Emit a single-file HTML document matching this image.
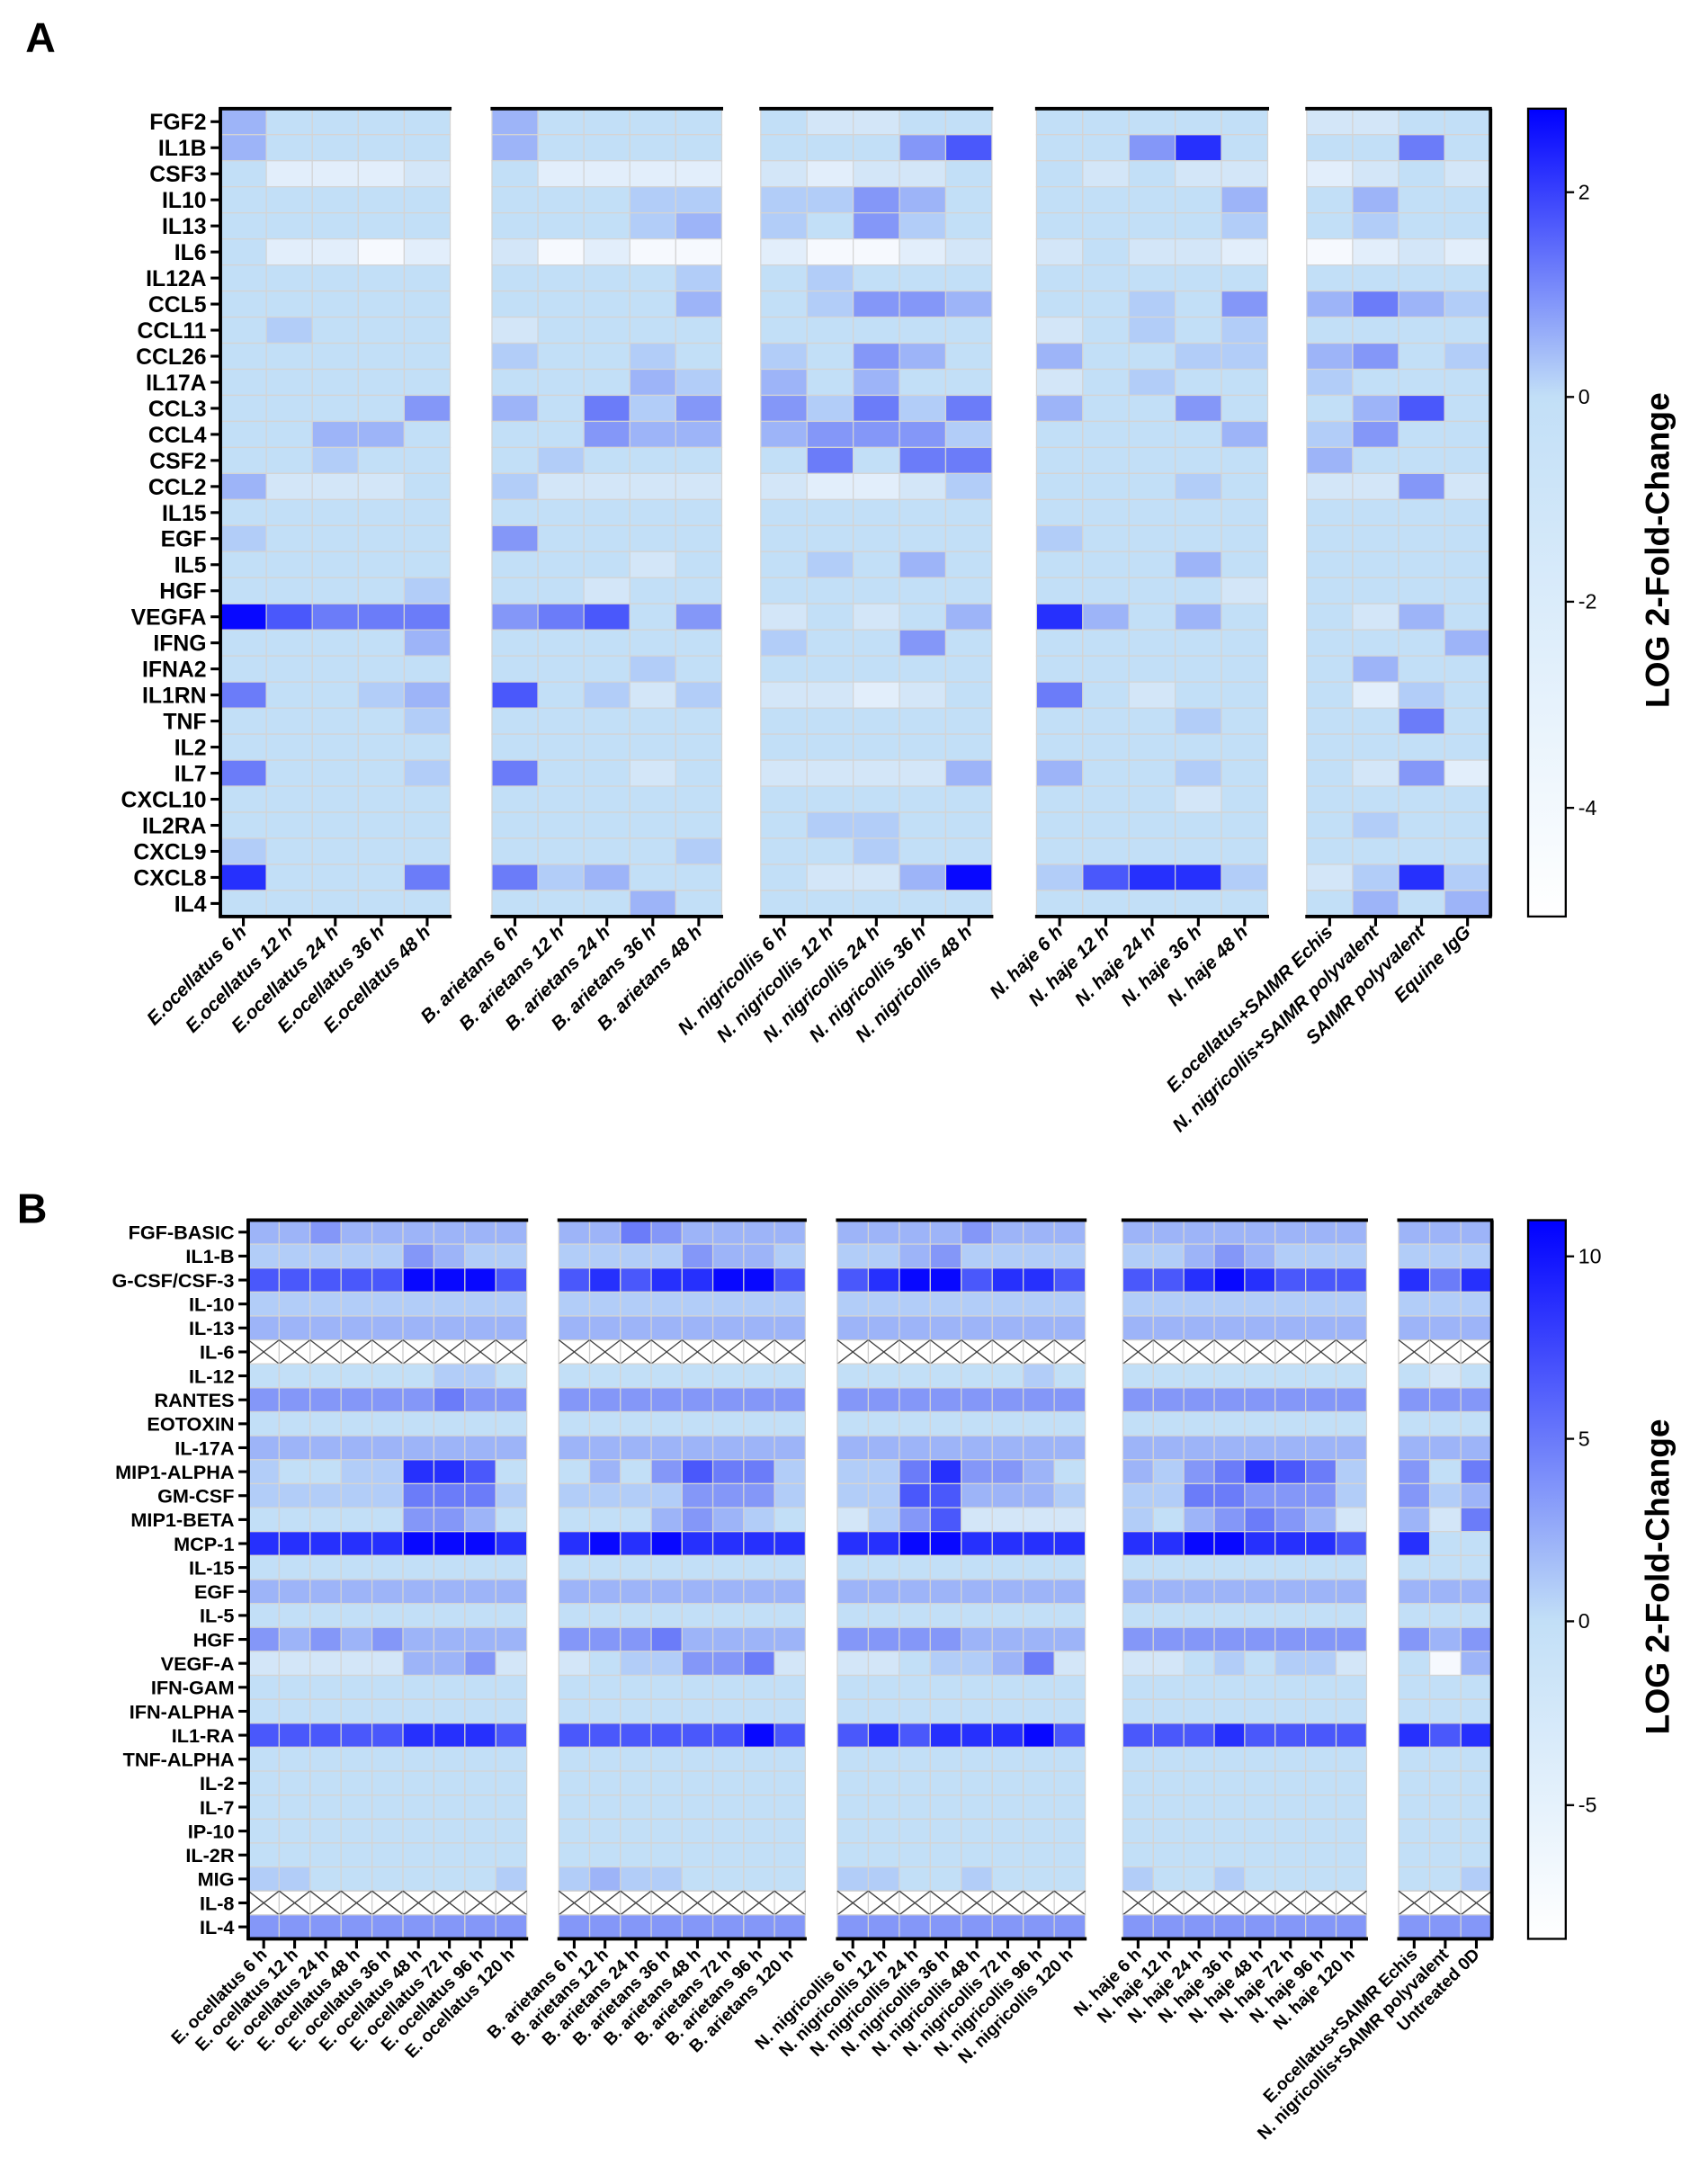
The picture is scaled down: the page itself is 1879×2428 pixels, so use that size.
<!DOCTYPE html>
<html><head><meta charset="utf-8"><style>
html,body{margin:0;padding:0;background:#fff}
svg{display:block}
text{font-family:"Liberation Sans",Arial,sans-serif}
</style></head><body>
<svg id="s" width="1879" height="2428" viewBox="0 0 1213 1568" xmlns="http://www.w3.org/2000/svg">
<defs>
<linearGradient id="ga" x1="0" y1="0" x2="0" y2="1"><stop offset="0" stop-color="#0000ff"/><stop offset="0.357" stop-color="#c2dff7"/><stop offset="1" stop-color="#ffffff"/></linearGradient>
<linearGradient id="gb" x1="0" y1="0" x2="0" y2="1"><stop offset="0" stop-color="#0000ff"/><stop offset="0.558" stop-color="#c2dff7"/><stop offset="1" stop-color="#ffffff"/></linearGradient>
</defs>
<text x="18" y="37" font-size="30" font-weight="bold">A</text>
<text x="12" y="878" font-size="30" font-weight="bold">B</text>
</svg>
<script>
const NS="http://www.w3.org/2000/svg",S=document.getElementById('s');
function el(t,a,txt){const e=document.createElementNS(NS,t);for(const k in a)e.setAttribute(k,a[k]);if(txt!==undefined)e.textContent=txt;S.appendChild(e);return e;}
const C={'.':'#c2dff7',v:'#d3e6f8',w:'#e2eefb',W:'#f6f9fe',a:'#b2cdf8',b:'#9db4f8',c:'#8497f8',d:'#6b7cf9',e:'#4a58fb',f:'#2630fd',g:'#0808ff'};
function block(x0,x1,top,bot,rows,nc){
  const n=rows.length,rh=(bot-top)/n,cw=(x1-x0)/nc;
  for(let r=0;r<n;r++){let s=rows[r].replace(/ /g,'');if(s.length==1)s=s.repeat(nc);
    for(let c=0;c<nc;c++){const ch=s[c]||'.';const x=x0+c*cw,y=top+r*rh;
      if(ch=='x'){el('rect',{x:x,y:y,width:cw,height:rh,fill:'#fff',stroke:'#ccc','stroke-width':0.8});
        el('path',{d:`M${x} ${y}L${x+cw} ${y+rh}M${x+cw} ${y}L${x} ${y+rh}`,stroke:'#444','stroke-width':0.9,fill:'none'});}
      else el('rect',{x:x,y:y,width:cw,height:rh,fill:C[ch],stroke:'#d4d4d4','stroke-width':0.8});}}
  el('line',{x1:x0-1,y1:top,x2:x1+1,y2:top,stroke:'#000','stroke-width':2.5});
  el('line',{x1:x0-1,y1:bot,x2:x1+1,y2:bot,stroke:'#000','stroke-width':2.5});
  for(let c=0;c<nc;c++){const cx=x0+(c+.5)*cw;el('line',{x1:cx,y1:bot,x2:cx,y2:bot+7,stroke:'#000','stroke-width':2});}
  return {cw:cw,rh:rh};
}
function xlabels(x0,cw,bot,labels,fs,it){
  labels.forEach((l,i)=>{const cx=x0+(i+.5)*cw+3,cy=bot+12;
    el('text',{x:cx,y:cy,'font-size':fs,'text-anchor':'end',transform:`rotate(-45 ${cx} ${cy})`,'font-style':it?'italic':'normal','font-weight':'bold'},l);});
}
function ylabels(x0,top,bot,labels,fs){
  const rh=(bot-top)/labels.length;
  el('line',{x1:x0,y1:top-1,x2:x0,y2:bot+1,stroke:'#000','stroke-width':2.5});
  labels.forEach((l,i)=>{const y=top+(i+.5)*rh;el('line',{x1:x0-7,y1:y,x2:x0,y2:y,stroke:'#000','stroke-width':2});
    el('text',{x:x0-10,y:y+fs*0.36,'font-size':fs,'font-weight':'bold','text-anchor':'end'},l);});
}
// ---------- Panel A
const TA=78,BA=658;
const rA=["FGF2","IL1B","CSF3","IL10","IL13","IL6","IL12A","CCL5","CCL11","CCL26","IL17A","CCL3","CCL4","CSF2","CCL2","IL15","EGF","IL5","HGF","VEGFA","IFNG","IFNA2","IL1RN","TNF","IL2","IL7","CXCL10","IL2RA","CXCL9","CXCL8","IL4"];
const A1=["b....","b....",".wwwv",".",".",".wwWw",".",".",".a...",".",".","....c","..bb.","..a..","bvvv.",".","a....",".","....a","geddd","....b",".","d..ab","....a",".","d...a",".",".","a....","f...d","."];
const A2=["b....","b....",".wwww","...aa","...ab","vWwWW","....a","....b","v....","a..a.","...ba","b.dac","..cbb",".a...","avvvv",".","c....","...v.","..v..","cde.c",".","...a.","e.ava",".",".","d..v.",".",".","....a","dab..","...b."];
const A3=[".vv..","...ce","vwvv.","aacb.","a.ca.","wWWwv",".a...",".accb",".","a.cb.","b.b..","cadad","bccca",".d.dd","vwwva",".",".",".a.b.",".","v.v.b","a..c.",".","vvwv.",".",".","vvvvb",".",".aa..","..a..",".vvbg","."];
const A4=[".","..cf.",".v.vv","....b","....a","v.vvw",".","..a.c","v.a.a","b..aa","v.a..","b..c.","....b",".","...a.",".","a....","...b.","....v","fb.b.",".",".","d.v..","...a.",".","b..a.","...v.",".",".","aeffa","."];
const A5=["vv..","..d.","wv.v",".b..",".a..","Wwvw",".","bdba",".","bc.a","a...",".be.","ac..","b...","vvcv",".",".",".",".",".vb.","...b",".b..",".wa.","..d.",".",".vcw",".",".a..",".","vafa",".b.b"];
const bA=[[158,323,5,A1],[353,518,5,A2],[546,712,5,A3],[744,910,5,A4],[938,1070,4,A5]];
bA.forEach(b=>block(b[0],b[1],TA,BA,b[3],b[2]));
el('line',{x1:1070,y1:TA,x2:1070,y2:BA,stroke:'#000','stroke-width':2.5});
ylabels(158,TA,BA,rA,16);
const sp=["E.ocellatus","B. arietans","N. nigricollis","N. haje"],hrs=[6,12,24,36,48];
bA.slice(0,4).forEach((b,k)=>xlabels(b[0],(b[1]-b[0])/5,BA,hrs.map(h=>sp[k]+" "+h+" h"),13.5,true));
xlabels(938,33,BA,["E.ocellatus+SAIMR Echis","N. nigricollis+SAIMR polyvalent","SAIMR polyvalent","Equine IgG"],13.5,true);
el('rect',{x:1097,y:TA,width:27,height:BA-TA,fill:'url(#ga)',stroke:'#000','stroke-width':1.5});
[[2,138],[0,285],[-2,432],[-4,580]].forEach(t=>{el('line',{x1:1124,y1:t[1],x2:1130,y2:t[1],stroke:'#000','stroke-width':1.5});
  el('text',{x:1133,y:t[1]+5,'font-size':15},t[0]<0?"-"+(-t[0]):t[0]);});
el('text',{x:1198,y:395,'font-size':24,'font-weight':'bold','text-anchor':'middle',transform:'rotate(-90 1198 395)'},"LOG 2-Fold-Change");
// ---------- Panel B
const TB=876,BB=1392;
const rB=["FGF-BASIC","IL1-B","G-CSF/CSF-3","IL-10","IL-13","IL-6","IL-12","RANTES","EOTOXIN","IL-17A","MIP1-ALPHA","GM-CSF","MIP1-BETA","MCP-1","IL-15","EGF","IL-5","HGF","VEGF-A","IFN-GAM","IFN-ALPHA","IL1-RA","TNF-ALPHA","IL-2","IL-7","IP-10","IL-2R","MIG","IL-8","IL-4"];
const B1=["bbcbbbbbb","aaaaacbaa","eeeeeggge","a","b","x","......aa.","ccccccdcc",".","b","a..aaffe.","aaaaaddda",".....ccb.","fffffgggf",".","b",".","cbcbcbbbb","vvvvvbbcv",".",".","eeeeefffe",".",".",".",".",".","aa......a","x","c"];
const B2=["bbdcbbbb","aaaacbba","efeffgge","a","b","x",".","c",".","b",".b.cedda","aaaaccca","...bcba.","fgfgffff",".","b",".","cccdbbbb","v.aaccdv",".",".","eeeeeege",".",".",".",".",".","abaa....","x","c"];
const B3=["bbbbcbbb","aabcaaaa","efggeffe","a","b","x","......a.","c",".","b","aadfccb.","aaeebbba","vacevvvv","ffggffff",".","b",".","ccccbbbb","vv.aabdv",".",".","efefffge",".",".",".",".",".","aa..a...","x","c"];
const B4=["b","aabcbaaa","eefgfeee","a","b","x",".","c",".","b","bacdfeda","aaddccca","a.bcdcbv","ffggfffe",".","b",".","c","vv.a.aav",".",".","eeefeeee",".",".",".",".",".","a..a....","x","c"];
const B5=["b","a","fdf","a","b","x",".v.","c",".","b","c.d","cab","bvd","f..",".","b",".","cbc",".Wb",".",".","fef",".",".",".",".",".","..a","x","c"];
const bB=[[178,378,9,B1],[401,578,8,B2],[601,779,8,B3],[806,981,8,B4],[1004,1071,3,B5]];
bB.forEach(b=>block(b[0],b[1],TB,BB,b[3],b[2]));
el('line',{x1:1071,y1:TB,x2:1071,y2:BB,stroke:'#000','stroke-width':2.5});
ylabels(178,TB,BB,rB,14);
const L1=["6","12","24","48","36","48","72","96","120"].map(h=>"E. ocellatus "+h+" h");
const h8=["6","12","24","36","48","72","96","120"];
xlabels(178,200/9,BB,L1,12.5,false);
xlabels(401,177/8,BB,h8.map(h=>"B. arietans "+h+" h"),12.5,false);
xlabels(601,178/8,BB,h8.map(h=>"N. nigricollis "+h+" h"),12.5,false);
xlabels(806,175/8,BB,h8.map(h=>"N. haje "+h+" h"),12.5,false);
xlabels(1004,67/3,BB,["E.ocellatus+SAIMR Echis","N. nigricollis+SAIMR polyvalent","Untreated 0D"],12.5,false);
el('rect',{x:1097,y:TB,width:27,height:BB-TB,fill:'url(#gb)',stroke:'#000','stroke-width':1.5});
[[10,902],[5,1033],[0,1164],[-5,1296]].forEach(t=>{el('line',{x1:1124,y1:t[1],x2:1130,y2:t[1],stroke:'#000','stroke-width':1.5});
  el('text',{x:1133,y:t[1]+5,'font-size':15},t[0]<0?"-"+(-t[0]):t[0]);});
el('text',{x:1198,y:1132,'font-size':24,'font-weight':'bold','text-anchor':'middle',transform:'rotate(-90 1198 1132)'},"LOG 2-Fold-Change");
</script>
</body></html>
